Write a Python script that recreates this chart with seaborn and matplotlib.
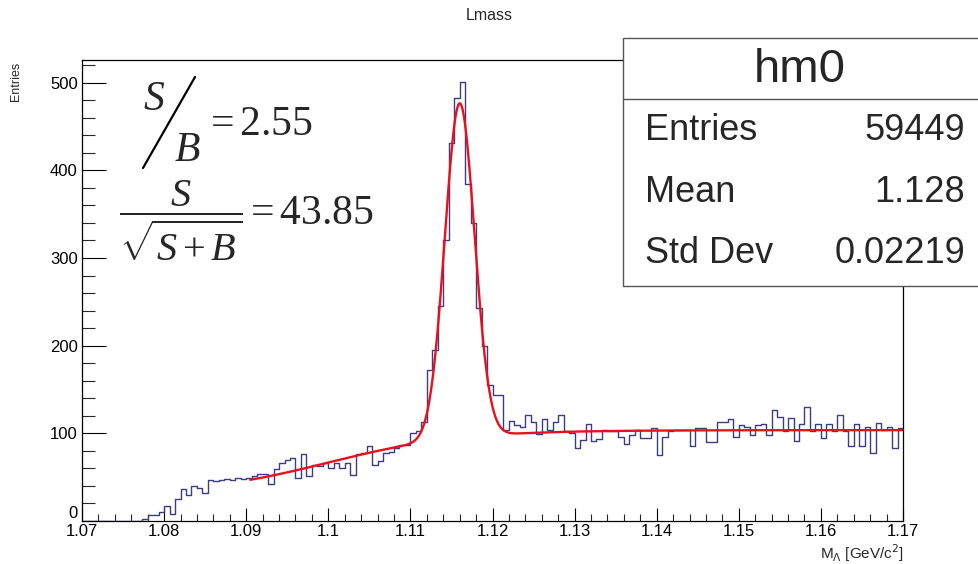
import numpy as np
import pandas as pd
import matplotlib
matplotlib.use("Agg")
import matplotlib.pyplot as plt
import seaborn as sns
from matplotlib.patches import Rectangle
from matplotlib.lines import Line2D
from matplotlib.ticker import MultipleLocator, FuncFormatter

# ---------------- data ----------------
x_min, x_max, n_bins = 1.07, 1.17, 150
counts = [
    0, 0, 0, 0, 0, 0, 0, 0, 0, 0,
    0, 2, 7, 7, 10, 17, 8, 25, 36, 30,
    40, 38, 32, 47, 46, 47, 48, 47, 49, 48,
    49, 51, 53, 53, 42, 59, 66, 69, 72, 49,
    76, 51, 64, 62, 66, 60, 66, 60, 66, 52,
    76, 77, 85, 64, 68, 77, 79, 83, 86, 87,
    100, 102, 113, 172, 195, 245, 321, 431, 483, 501,
    385, 340, 243, 200, 155, 144, 144, 104, 114, 109,
    107, 121, 113, 99, 116, 104, 113, 121, 102, 100,
    83, 92, 110, 91, 93, 104, 103, 102, 96, 88,
    98, 104, 95, 95, 106, 75, 96, 102, 104, 104,
    104, 85, 106, 106, 90, 90, 113, 113, 116, 96,
    109, 107, 98, 109, 111, 98, 127, 118, 102, 117,
    91, 111, 130, 102, 111, 95, 110, 102, 121, 102,
    85, 111, 85, 107, 77, 112, 104, 107, 83, 106,
]

# fit (gaussian signal + smooth threshold background)
fit_range = [1.0905, 1.17]
gaus_amp, gaus_mean, gaus_sigma = 382.0, 1.1160, 0.0018
bkg_base, bkg_amp, bkg_center, bkg_width = 66.5, 37.0, 1.100, 0.016

hist_title = "Lmass"
x_title = r"M$_{\Lambda}$ [GeV/c$^{2}$]"
y_title = "Entries"
stats_title = "hm0"
stats_labels = ["Entries", "Mean", "Std Dev"]
stats_values = ["59449", "1.128", "0.02219"]
sb_ratio = "2.55"
significance = "43.85"

# ---------------- style ----------------
sns.set_theme(style="white")
plt.rcParams["font.family"] = ["Liberation Sans", "DejaVu Sans"]
plt.rcParams["mathtext.fontset"] = "custom"
plt.rcParams["mathtext.rm"] = "Liberation Serif"
plt.rcParams["mathtext.it"] = "Liberation Serif:italic"
plt.rcParams["mathtext.bf"] = "Liberation Serif:bold"

W, H = 979, 564
fig = plt.figure(figsize=(W / 100, H / 100), dpi=100)
fig.patch.set_facecolor("white")


def P(px, py):
    return px / W, 1 - py / H


ax_l, ax_r, ax_t, ax_b = 82, 903, 60, 520.8
ax = fig.add_axes([ax_l / W, 1 - ax_b / H, (ax_r - ax_l) / W, (ax_b - ax_t) / H])
ax.set_facecolor("white")

df = pd.DataFrame({
    "mass": 0.5 * (np.linspace(x_min, x_max, n_bins + 1)[:-1]
                   + np.linspace(x_min, x_max, n_bins + 1)[1:]),
    "count": counts,
})
sns.histplot(data=df, x="mass", weights="count", bins=n_bins,
             binrange=(x_min, x_max), element="step",
             fill=False, color="#3c3c86", linewidth=1.0, ax=ax)

xs = np.linspace(fit_range[0], fit_range[1], 600)
ys = (gaus_amp * np.exp(-0.5 * ((xs - gaus_mean) / gaus_sigma) ** 2)
      + bkg_base + bkg_amp * np.tanh((xs - bkg_center) / bkg_width))
sns.lineplot(x=xs, y=ys, color="#e8101c", linewidth=1.7, ax=ax,
             estimator=None, sort=False)

ax.set_xlim(x_min, x_max)
ax.set_ylim(0, max(counts) * 1.05)
ax.set_xlabel("")
ax.set_ylabel("")
ax.xaxis.set_major_locator(MultipleLocator(0.01))
ax.xaxis.set_minor_locator(MultipleLocator(0.002))
ax.yaxis.set_major_locator(MultipleLocator(100))
ax.yaxis.set_minor_locator(MultipleLocator(20))
ax.xaxis.set_major_formatter(FuncFormatter(lambda v, p: "%g" % round(v, 3)))
ax.yaxis.set_major_formatter(FuncFormatter(lambda v, p: "%g" % v))
ax.tick_params(axis="x", which="major", direction="in", length=9.5, width=0.8,
               labelsize=12, pad=2, colors="black", bottom=True, top=False)
ax.tick_params(axis="x", which="minor", direction="in", length=5, width=0.8,
               bottom=True, top=False)
ax.tick_params(axis="y", which="major", direction="in", length=17, width=0.8,
               labelsize=12, pad=3, colors="black", left=True, right=False)
ax.tick_params(axis="y", which="minor", direction="in", length=9, width=0.8,
               left=True, right=False)
for s in ax.spines.values():
    s.set_visible(True)
    s.set_color("black")
    s.set_linewidth(0.9)
# lift the "0" label slightly, as in the reference where it sits just above "1.07"
for lbl in ax.get_yticklabels():
    if lbl.get_text() == "0":
        lbl.set_va("bottom")

# titles
fig.text(*P(489, 16), hist_title, ha="center", va="center", fontsize=11.5)
fig.text(*P(16, 62), y_title, ha="center", va="top", rotation=90, fontsize=9)
fig.text(*P(904, 553), x_title, ha="right", va="center", fontsize=11,
         math_fontfamily="dejavusans")

# stats box
bx0, by0 = P(623, 285.7)
bx1, by1 = P(985, 37.7)
fig.add_artist(Rectangle((bx0, by0), bx1 - bx0, by1 - by0, transform=fig.transFigure,
                         facecolor="white", edgecolor="#555555", linewidth=1.0,
                         zorder=5))
dvx0, dvy = P(623, 99)
fig.add_artist(Line2D([dvx0, 1.0], [dvy, dvy], transform=fig.transFigure,
                      color="#555555", linewidth=1.0, zorder=6))
fig.text(*P(800, 70), stats_title, ha="center", va="center", fontsize=34, zorder=7)
for lab, val, py in zip(stats_labels, stats_values, [130, 192, 253]):
    fig.text(*P(645, py), lab, ha="left", va="center", fontsize=26, zorder=7)
    fig.text(*P(965, py), val, ha="right", va="center", fontsize=26, zorder=7)

# S/B and significance
fig.text(*P(154, 99), r"$S$", ha="center", va="center", fontsize=30, zorder=7)
fig.text(*P(187, 150), r"$B$", ha="center", va="center", fontsize=30, zorder=7)
sx0, sy0 = P(143, 168)
sx1, sy1 = P(195, 77)
fig.add_artist(Line2D([sx0, sx1], [sy0, sy1], transform=fig.transFigure,
                      color="black", linewidth=1.6, zorder=7))
fig.text(*P(204, 125), r"$=$" + sb_ratio, ha="left", va="center", fontsize=30,
         family="Liberation Serif", zorder=7)
fig.text(*P(181, 221), r"$\dfrac{S}{\sqrt{S+B}}$", ha="center", va="center",
         fontsize=29, zorder=7)
fig.text(*P(244, 214), r"$=$" + significance, ha="left", va="center", fontsize=30,
         family="Liberation Serif", zorder=7)

fig.savefig("out.png", dpi=100, facecolor="white")
